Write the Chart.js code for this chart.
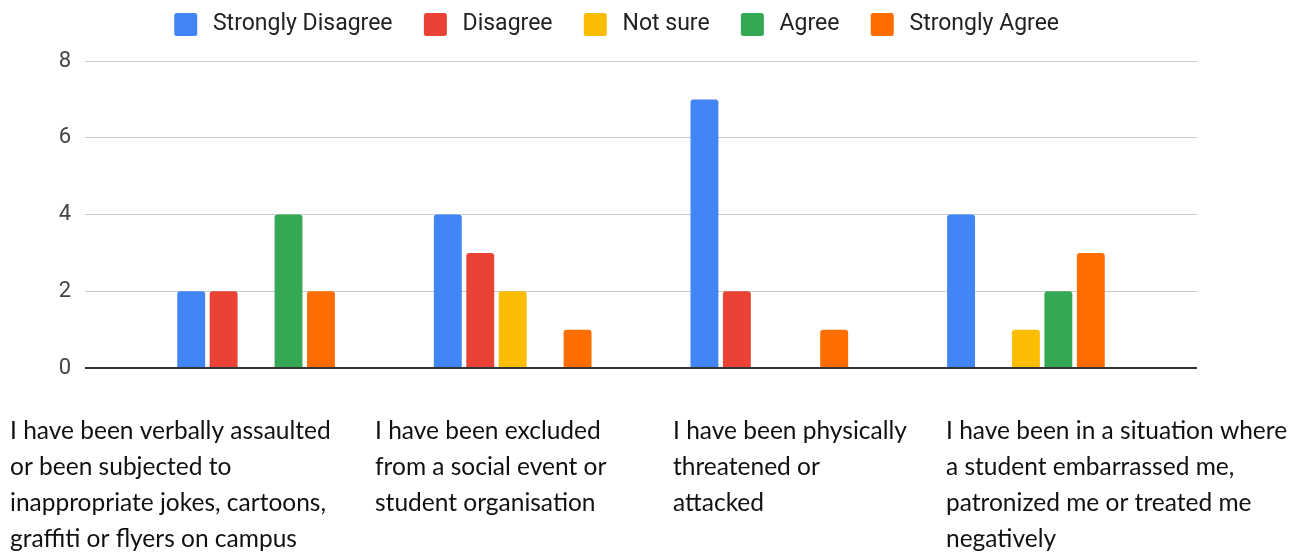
<!DOCTYPE html>
<html>
<head>
<meta charset="utf-8">
<script src="https://cdn.jsdelivr.net/npm/chart.js@4.4.1/dist/chart.umd.min.js"></script>
<style>
  body { margin: 0; background: #fff; }
  #wrap { position: relative; width: 1299px; height: 555px; }
</style>
</head>
<body>
<div id="wrap"><canvas id="myChart"></canvas></div>
<script>
// categorias (uma linha por entrada)
const categories = [
    ['I have been verbally assaulted', 'or been subjected to', 'inappropriate jokes, cartoons,', 'graffiti or flyers on campus'],
    ['I have been excluded', 'from a social event or', 'student organisation'],
    ['I have been physically', 'threatened or', 'attacked'],
    ['I have been in a situation where', 'a student embarrassed me,', 'patronized me or treated me', 'negatively']
];
const seriesNames = ['Strongly Disagree', 'Disagree', 'Not sure', 'Agree', 'Strongly Agree'];
const stronglyDisagree = [2, 4, 7, 4];
const disagree = [2, 3, 2, 0];
const notSure = [0, 2, 0, 1];
const agree = [4, 0, 0, 2];
const stronglyAgree = [2, 1, 1, 3];
const yTicks = [0, 2, 4, 6, 8];

const colors = ['#4285F4', '#EA4335', '#FBBC04', '#34A853', '#FF6D01'];
const allSeries = [stronglyDisagree, disagree, notSure, agree, stronglyAgree];

// posição dos textos das categorias (px)
const labelLeft = [10, 375, 673, 946];
const labelTop = 431;
const lineGap = 36;

// quadradinho da legenda, com espaço em branco à esquerda
function swatch(color) {
    const cv = document.createElement('canvas');
    cv.width = 48;
    cv.height = 23;
    const g = cv.getContext('2d');
    g.fillStyle = color;
    g.beginPath();
    if (g.roundRect) g.roundRect(21, 0, 23, 23, 2.5); else g.rect(21, 0, 23, 23);
    g.fill();
    return cv;
}
const swatches = colors.map(swatch);

const groupLabels = {
    id: 'groupLabels',
    afterDraw(chart) {
        const c = chart.ctx;
        c.save();
        c.font = '24.5px Lato';
        c.fillStyle = '#111';
        c.textAlign = 'left';
        c.textBaseline = 'middle';
        categories.forEach((lines, i) => {
            lines.forEach((line, j) => {
                c.fillText(line, labelLeft[i], labelTop + j * lineGap);
            });
        });
        c.restore();
    }
};

// espaço extra abaixo da legenda
const legendMargin = {
    id: 'legendMargin',
    beforeInit(chart) {
        const fit = chart.legend.fit;
        chart.legend.fit = function () {
            fit.bind(chart.legend)();
            this.height += 15;
        };
    }
};

const ctx = document.getElementById('myChart').getContext('2d');
const myChart = new Chart(ctx, {
    type: 'bar',
    data: {
        datasets: allSeries.map((vals, k) => ({
            label: seriesNames[k],
            data: vals.map((v, i) => ({ x: i, y: v })),
            backgroundColor: colors[k],
            borderRadius: 3,
            borderSkipped: 'start'
        }))
    },
    options: {
        responsive: true,
        maintainAspectRatio: false,
        animation: false,
        categoryPercentage: 0.632,
        barPercentage: 0.86,
        layout: {
            padding: { top: 3, right: 102, bottom: 187, left: 15 }
        },
        plugins: {
            tooltip: { enabled: false },
            legend: {
                position: 'top',
                labels: {
                    usePointStyle: true,
                    pointStyleWidth: 48.5,
                    boxHeight: 23,
                    padding: 10,
                    color: '#222',
                    font: { family: 'Roboto', size: 23 },
                    generateLabels: (chart) =>
                        Chart.defaults.plugins.legend.labels.generateLabels(chart).map((it, k) => {
                            it.pointStyle = swatches[k];
                            return it;
                        })
                }
            }
        },
        scales: {
            x: {
                type: 'linear',
                display: false,
                offset: false,
                min: -2 / 3,
                max: 11 / 3,
                afterBuildTicks: (axis) => { axis.ticks = categories.map((_, i) => ({ value: i })); }
            },
            y: {
                min: 0,
                max: 8,
                afterBuildTicks: (axis) => { axis.ticks = yTicks.map(v => ({ value: v })); },
                afterFit: (axis) => { axis.width = 70; },
                border: { display: false },
                grid: {
                    drawTicks: false,
                    color: (c) => c.tick && c.tick.value === 0 ? '#333' : '#cccccc',
                    lineWidth: (c) => c.tick && c.tick.value === 0 ? 2 : 1
                },
                ticks: {
                    padding: 14,
                    color: '#444',
                    font: { family: 'Roboto', size: 22 }
                }
            }
        }
    },
    plugins: [groupLabels, legendMargin]
});
</script>
</body>
</html>
